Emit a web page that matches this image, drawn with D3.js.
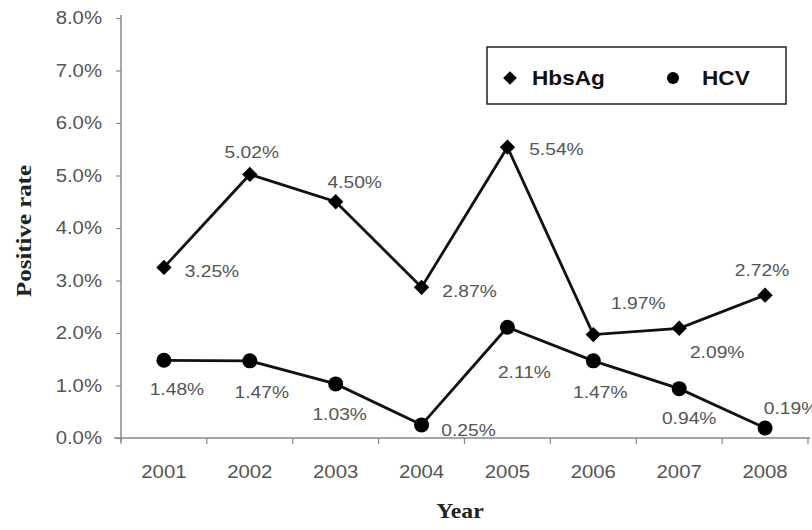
<!DOCTYPE html>
<html>
<head>
<meta charset="utf-8">
<script src="https://cdn.jsdelivr.net/npm/d3@7"></script>
<style>
  body { margin: 0; background: #fff; }
  svg { display: block; }
</style>
</head>
<body>
<script>
// data
var years = ["2001", "2002", "2003", "2004", "2005", "2006", "2007", "2008"];
var hbsag = [3.25, 5.02, 4.50, 2.87, 5.54, 1.97, 2.09, 2.72];
var hcv   = [1.48, 1.47, 1.03, 0.25, 2.11, 1.47, 0.94, 0.19];
var yTicks = [0, 1, 2, 3, 4, 5, 6, 7, 8];

// where each value label sits relative to its point
var hbsOff = [[48, 4], [2, -22], [19, -20], [48, 4], [49, 2], [45, -32], [38, 24], [-3, -25]];
var hcvOff = [[13, 29], [12, 31], [4, 30], [47, 5], [17, 45], [7, 31], [10, 29], [26, -20]];

var width = 812, height = 530;
var stretch = 1.13; // the original text is a bit wide

var svg = d3.select("body").append("svg")
    .attr("width", width)
    .attr("height", height);

var x = d3.scaleBand().domain(years).range([121, 808]);
var y = d3.scaleLinear().domain([0, 8]).range([438, 18]);

function widen(sel) {
  sel.each(function() {
    var len = this.getComputedTextLength();
    d3.select(this).attr("textLength", len * stretch).attr("lengthAdjust", "spacingAndGlyphs");
  });
}

// y axis
var yAxis = svg.append("g")
    .attr("transform", "translate(121,0)")
    .call(d3.axisLeft(y).tickValues(yTicks).tickSize(5).tickPadding(14)
      .tickFormat(function(d) { return d.toFixed(1) + "%"; }));
yAxis.select(".domain").attr("stroke", "#888").attr("stroke-width", 1.5).attr("d", "M0,15V442");
yAxis.selectAll(".tick line").attr("stroke", "#888").attr("stroke-width", 1.2);
yAxis.selectAll(".tick text")
    .attr("fill", "#555")
    .style("font-family", "Liberation Sans, Arial, sans-serif")
    .style("font-size", "18px")
    .call(widen);

// x axis
var xAxis = svg.append("g")
    .attr("transform", "translate(0,438)")
    .call(d3.axisBottom(x).tickSize(0).tickPadding(27));
xAxis.select(".domain").attr("stroke", "#888").attr("stroke-width", 1.5).attr("d", "M114,0H810");
xAxis.selectAll(".tick text")
    .attr("fill", "#555")
    .style("font-family", "Liberation Sans, Arial, sans-serif")
    .style("font-size", "18px")
    .call(widen);

// tick marks at the band edges
xAxis.selectAll(".edge")
    .data(years.concat(["end"]))
  .enter().append("line")
    .attr("class", "edge")
    .attr("x1", function(d) { return d === "end" ? x.range()[1] : x(d); })
    .attr("x2", function(d) { return d === "end" ? x.range()[1] : x(d); })
    .attr("y1", 0).attr("y2", 6)
    .attr("stroke", "#888").attr("stroke-width", 1.2);

// axis titles
svg.append("text")
    .attr("transform", "translate(31,231) rotate(-90)")
    .attr("text-anchor", "middle")
    .style("font-family", "Liberation Serif, Times New Roman, serif")
    .style("font-weight", "bold")
    .style("font-size", "22px")
    .attr("fill", "#222")
    .text("Positive rate")
    .call(widen);

svg.append("text")
    .attr("x", 460).attr("y", 518)
    .attr("text-anchor", "middle")
    .style("font-family", "Liberation Serif, Times New Roman, serif")
    .style("font-weight", "bold")
    .style("font-size", "21px")
    .attr("fill", "#222")
    .text("Year")
    .call(widen);

var cx = function(d, i) { return x(years[i]) + x.bandwidth() / 2; };

var line = d3.line()
    .x(function(d, i) { return cx(d, i); })
    .y(function(d) { return y(d); });

var diamond = d3.symbol().type(d3.symbolDiamond2).size(150);

// lines
svg.append("path").datum(hbsag)
    .attr("d", line).attr("fill", "none").attr("stroke", "#111").attr("stroke-width", 2.8);
svg.append("path").datum(hcv)
    .attr("d", line).attr("fill", "none").attr("stroke", "#111").attr("stroke-width", 2.8);

// markers
svg.selectAll(".dia").data(hbsag).enter().append("path")
    .attr("class", "dia")
    .attr("d", diamond)
    .attr("transform", function(d, i) { return "translate(" + cx(d, i) + "," + y(d) + ")"; })
    .attr("fill", "#000");

svg.selectAll(".dot").data(hcv).enter().append("circle")
    .attr("class", "dot")
    .attr("cx", cx).attr("cy", function(d) { return y(d); })
    .attr("r", 7.5)
    .attr("fill", "#000");

// value labels
function labels(data, off, cls) {
  svg.selectAll("." + cls).data(data).enter().append("text")
      .attr("class", cls)
      .attr("x", function(d, i) { return cx(d, i) + off[i][0]; })
      .attr("y", function(d, i) { return y(d) + off[i][1]; })
      .attr("dy", "0.35em")
      .attr("text-anchor", "middle")
      .attr("fill", "#555")
      .style("font-family", "Liberation Sans, Arial, sans-serif")
      .style("font-size", "17px")
      .text(function(d) { return d.toFixed(2) + "%"; })
      .call(widen);
}
labels(hbsag, hbsOff, "lh");
labels(hcv, hcvOff, "lc");

// legend
var leg = svg.append("g");
leg.append("rect")
    .attr("x", 487).attr("y", 47).attr("width", 299).attr("height", 57)
    .attr("fill", "#fff").attr("stroke", "#222").attr("stroke-width", 1.5);
leg.append("path")
    .attr("d", d3.symbol().type(d3.symbolDiamond2).size(120))
    .attr("transform", "translate(510,78)")
    .attr("fill", "#000");
leg.append("circle").attr("cx", 673).attr("cy", 78).attr("r", 6).attr("fill", "#000");
var legNames = ["HbsAg", "HCV"];
var legX = [532, 702];
leg.selectAll(".lt").data(legNames).enter().append("text")
    .attr("class", "lt")
    .attr("x", function(d, i) { return legX[i]; })
    .attr("y", 78).attr("dy", "0.35em")
    .attr("fill", "#111")
    .style("font-family", "Liberation Sans, Arial, sans-serif")
    .style("font-weight", "bold")
    .style("font-size", "20px")
    .text(function(d) { return d; })
    .call(widen);
</script>
</body>
</html>
